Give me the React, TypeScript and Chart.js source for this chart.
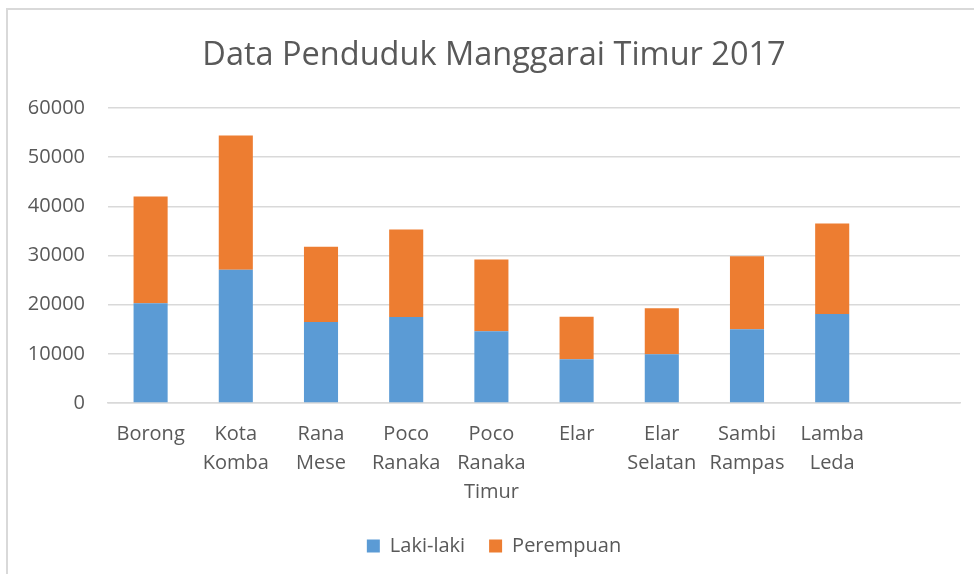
import React, { useEffect, useRef } from "react";
import { Chart, registerables } from "chart.js";

Chart.register(...registerables);

const categories: string[][] = [
  ["Borong"],
  ["Kota", "Komba"],
  ["Rana", "Mese"],
  ["Poco", "Ranaka"],
  ["Poco", "Ranaka", "Timur"],
  ["Elar"],
  ["Elar", "Selatan"],
  ["Sambi", "Rampas"],
  ["Lamba", "Leda"],
  [""],
];
const lakiLaki: (number | null)[] = [20300, 27100, 16500, 17500, 14600, 8900, 9900, 15000, 18100, null];
const perempuan: (number | null)[] = [21700, 27300, 15300, 17800, 14600, 8650, 9350, 14850, 18400, null];
const yTicks = [0, 10000, 20000, 30000, 40000, 50000, 60000];

const FONT = "'Open Sans', 'Noto Sans', sans-serif";
const TEXT = "#595959";
const GRID = "#d9d9d9";

export default function App() {
  const ref = useRef<HTMLCanvasElement | null>(null);
  useEffect(() => {
    if (!ref.current) return;
    const chart = new Chart(ref.current, {
      type: "bar",
      data: {
        labels: categories,
        datasets: [
          {
            label: "Laki-laki",
            data: lakiLaki,
            backgroundColor: "#5b9bd5",
            barPercentage: 0.5,
            categoryPercentage: 0.8,
          },
          {
            label: "Perempuan",
            data: perempuan,
            backgroundColor: "#ed7d31",
            barPercentage: 0.5,
            categoryPercentage: 0.8,
          },
        ],
      },
      options: {
        responsive: false,
        animation: false,
        layout: { padding: { left: 28, right: 14, top: 0, bottom: 8 } },
        plugins: {
          title: {
            display: true,
            text: "Data Penduduk Manggarai Timur 2017",
            color: TEXT,
            font: { family: FONT, size: 32.5, weight: "normal" },
            padding: { top: 36.5, bottom: 32.5 },
          },
          legend: {
            position: "bottom",
            labels: {
              color: TEXT,
              font: { family: FONT, size: 20 },
              boxWidth: 13,
              boxHeight: 13,
              padding: 24,
            },
          },
          tooltip: { enabled: false },
        },
        scales: {
          x: {
            stacked: true,
            grid: { display: false, drawTicks: false },
            border: { display: true, color: GRID, width: 1.5 },
            afterFit: (scale: any) => {
              scale.height = 109;
            },
            ticks: {
              color: TEXT,
              font: { family: FONT, size: 20, lineHeight: 1.45 },
              padding: 16.5,
              autoSkip: false,
              maxRotation: 0,
              minRotation: 0,
            },
          },
          y: {
            stacked: true,
            min: 0,
            max: 60000,
            afterBuildTicks: (scale: any) => {
              scale.ticks = yTicks.map((v) => ({ value: v }));
            },
            afterFit: (scale: any) => {
              scale.width = 80;
            },
            grid: { color: GRID, lineWidth: 1.5, drawTicks: false },
            border: { display: false },
            ticks: {
              color: TEXT,
              font: { family: FONT, size: 20 },
              padding: 23,
              callback: (v: any) => String(v),
            },
          },
        },
      },
    });
    return () => chart.destroy();
  }, []);

  return (
    <div style={{ position: "fixed", left: 0, top: 0, width: 974, height: 574, background: "#fff", overflow: "hidden" }}>
      <div
        style={{
          position: "absolute",
          left: 6,
          top: 8,
          right: -10,
          bottom: -10,
          borderLeft: `2px solid ${GRID}`,
          borderTop: `2px solid ${GRID}`,
        }}
      />
      <canvas ref={ref} width={974} height={574} style={{ position: "absolute", left: 0, top: 0 }} />
    </div>
  );
}
